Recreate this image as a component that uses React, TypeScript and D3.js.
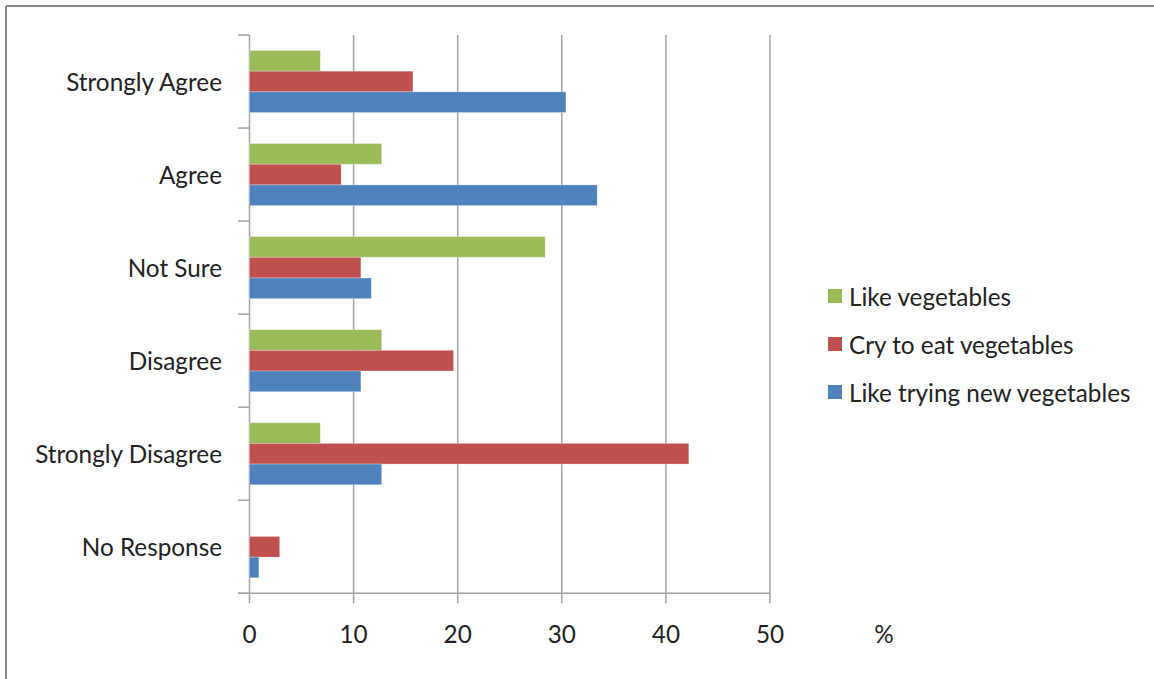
import React from "react";
import * as d3 from "d3";

const categories = ["Strongly Agree", "Agree", "Not Sure", "Disagree", "Strongly Disagree", "No Response"];
const seriesNames = ["Like vegetables", "Cry to eat vegetables", "Like trying new vegetables"];
const seriesColors = ["#9BBB59", "#C0504D", "#4F81BD"];
const likeVegetables = [6.8, 12.7, 28.4, 12.7, 6.8, 0];
const cryToEat = [15.7, 8.8, 10.7, 19.6, 42.2, 2.9];
const likeTrying = [30.4, 33.4, 11.7, 10.7, 12.7, 0.9];
const xTicks = [0, 10, 20, 30, 40, 50];
const unitLabel = "%";

const W = 1154;
const H = 679;
const FONT = "Lato, 'Open Sans', sans-serif";
const FS = 24.3;

export default function App() {
  const series = [likeVegetables, cryToEat, likeTrying];
  const x = d3.scaleLinear().domain([0, 50]).range([249.5, 770]);
  const y = d3.scaleBand<string>().domain(categories).range([35, 593.3]).paddingInner(0).paddingOuter(0);
  const inner = d3
    .scaleBand<string>()
    .domain(seriesNames)
    .range([0, y.bandwidth()])
    .paddingInner(0)
    .paddingOuter(0.75);
  const bounds = categories.map((c) => y(c) as number).concat([593.3]);
  const axisBottom = 593.3;
  const gridColor = "#a3a3a3";

  return (
    <svg
      width={W}
      height={H}
      style={{ position: "absolute", left: 0, top: 0, background: "#fff" }}
      fontFamily={FONT}
    >
      <rect x={0} y={0} width={W} height={H} fill="#fff" />
      {/* frame */}
      <line x1={6} y1={6} x2={W} y2={6} stroke="#8a8a8a" strokeWidth={2} />
      <line x1={6} y1={6} x2={6} y2={H} stroke="#8a8a8a" strokeWidth={2} />

      {/* gridlines */}
      {xTicks.map((t) => (
        <line
          key={"g" + t}
          x1={x(t)}
          x2={x(t)}
          y1={35}
          y2={axisBottom + 10}
          stroke={gridColor}
          strokeWidth={1.5}
        />
      ))}
      {/* bottom axis line */}
      <line x1={238} x2={x(50)} y1={axisBottom} y2={axisBottom} stroke={gridColor} strokeWidth={1.5} />
      {/* category ticks */}
      {bounds.map((b, i) => (
        <line key={"ct" + i} x1={238} x2={x(0)} y1={b} y2={b} stroke={gridColor} strokeWidth={1.5} />
      ))}

      {/* bars */}
      {categories.map((c, ci) =>
        series.map((vals, si) => {
          const v = vals[ci];
          if (!v) return null;
          const y0 = (y(c) as number) + (inner(seriesNames[si]) as number);
          return (
            <rect
              key={c + si}
              x={x(0)}
              y={y0}
              width={x(v) - x(0)}
              height={inner.bandwidth()}
              fill={seriesColors[si]}
              stroke="rgba(255,255,255,0.35)"
              strokeWidth={0.8}
            />
          );
        })
      )}

      {/* category labels */}
      {categories.map((c) => (
        <text
          key={"l" + c}
          x={222}
          y={(y(c) as number) + y.bandwidth() / 2}
          textAnchor="end"
          dominantBaseline="central"
          fontSize={FS}
          fill="#222"
        >
          {c}
        </text>
      ))}

      {/* x tick labels */}
      {xTicks.map((t) => (
        <text key={"xl" + t} x={x(t)} y={643} textAnchor="middle" fontSize={FS} fill="#222">
          {t}
        </text>
      ))}
      <text x={884} y={643} textAnchor="middle" fontSize={FS} fill="#222">
        {unitLabel}
      </text>

      {/* legend */}
      {seriesNames.map((s, i) => (
        <g key={"lg" + s} transform={`translate(828, ${296 + i * 48})`}>
          <rect x={0} y={-7} width={14} height={14} fill={seriesColors[i]} />
          <text x={21} y={0} dominantBaseline="central" fontSize={FS} fill="#222">
            {s}
          </text>
        </g>
      ))}
    </svg>
  );
}
